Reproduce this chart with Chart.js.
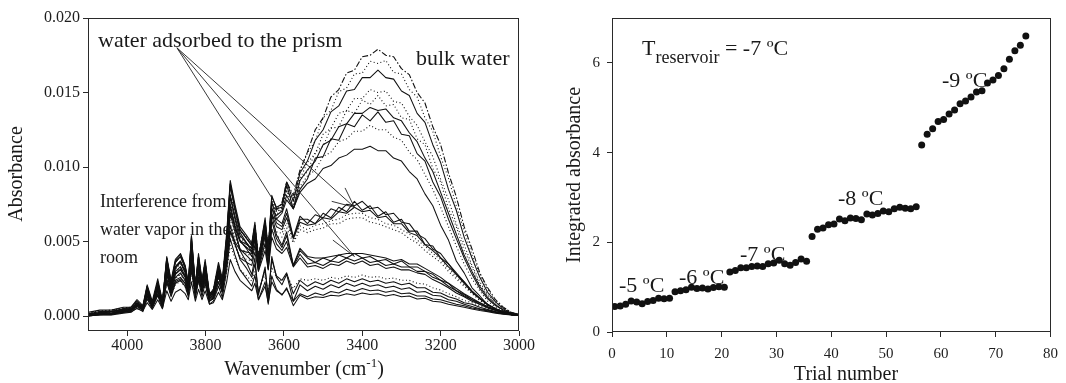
<!DOCTYPE html>
<html><head><meta charset="utf-8">
<script src="https://cdn.jsdelivr.net/npm/chart.js@4.4.1/dist/chart.umd.min.js"></script>
<style>
html,body{margin:0;padding:0;background:#fff;}
#wrap{position:relative;width:1066px;height:383px;overflow:hidden;}
#c1{position:absolute;left:0;top:0;}
#c2{position:absolute;left:540px;top:0;}
</style></head><body>
<div id="wrap"><canvas id="c1" width="540" height="383"></canvas><canvas id="c2" width="526" height="383"></canvas></div>
<script>
// ---------- Left panel: spectra (absorbance in units of 0.001) ----------
const WN = [4100,4070,4040,4010, 3990,3975,3960,3949,3936,3922,3910,3899,3888,3877,
 3864,3852,3844,3836,3826,3818,3809,3801,3790,3780, 3767,3757,3746,3737,3725,3712,3695,3682,3674,3665,
 3648,3640,3631,3619,3605,3593,3576,3559, 3540,3520,3500,3480,3460,3440,3420,3400,3380,3360,
 3340,3320,3300,3280,3260,3240,3220,3200,3180,3160, 3140,3120,3100,3080,3060,3040,3020,3000];

const bulk1 = [0.1,0.2,0.3,0.4, 0.5,0.8,0.6,1.6,0.8,1.9,0.8,3.1,1.9,2.9, 3.3,2.7,1.8,4.1,1.7,3.3,2.0,3.0,1.3,1.6, 2.9,2.1,4.5,7.2,6.0,5.0,4.6,4.3,5.5,3.8, 6.0,4.5,7.5,7.1,7.6,9.0,8.1,9.8, 11.0,12.5,13.3,14.7,15.2,16.3,16.5,17.4,17.5,17.9, 17.5,17.4,16.6,16.2,15.0,14.3,12.7,11.5,9.6,8.0, 6.0,4.5,2.9,1.9,1.1,0.6,0.25,0.1];
const bulk7 = [0.12,0.25,0.3,0.45, 0.55,0.9,0.6,1.8,0.85,2.1,0.85,3.45,2.05,3.25, 3.65,2.95,1.95,4.6,1.85,3.6,2.15,3.3,1.35,1.65, 3.15,2.25,4.9,7.95,6.6,5.4,4.9,4.55,5.8,3.8, 6.2,4.45,7.75,7.2,7.55,9.0,7.9,9.7, 10.95,11.75,13.3,13.8,15.05,15.3,16.25,16.3,17.1,16.95, 17.15,16.35,16.25,15.2,14.7,13.3,12.4,10.7,9.25,7.4, 5.75,4.1,2.8,1.8,1.0,0.55,0.24,0.1];
const bulk2 = [0.15,0.3,0.3,0.5, 0.6,1.0,0.6,2.0,0.9,2.3,0.9,3.8,2.2,3.6, 4.0,3.2,2.1,5.1,2.0,3.9,2.3,3.6,1.4,1.7, 3.4,2.4,5.3,8.7,7.2,5.8,5.2,4.8,6.1,3.8, 6.4,4.4,8.0,7.3,7.5,9.0,7.7,9.6, 10.4,11.8,12.5,13.7,14.1,15.1,15.2,16.0,16.0,16.5, 16.0,15.9,15.1,14.8,13.6,13.0,11.5,10.3,8.5,7.1, 5.3,3.9,2.6,1.6,0.95,0.5,0.2,0.1];
const bulk3 = [0.2,0.3,0.4,0.5, 0.6,0.8,0.7,1.5,0.8,1.7,0.9,2.7,1.7,2.5, 2.8,2.4,1.7,3.5,1.6,2.9,1.8,2.7,1.3,1.6, 2.7,2.0,4.0,6.1,5.3,4.5,4.3,4.1,5.1,3.8, 5.7,4.6,7.0,6.8,7.2,8.4,7.8,9.2, 10.3,10.9,12.2,12.6,13.6,13.8,14.6,14.6,15.2,15.0, 15.1,14.4,14.3,13.4,12.8,11.7,10.7,9.2,7.8,6.2, 4.8,3.4,2.3,1.45,0.85,0.5,0.2,0.1];
const bulk9 = [0.22,0.35,0.4,0.55, 0.6,0.95,0.7,1.8,0.9,2.1,0.95,3.35,2.05,3.15, 3.5,2.9,2.0,4.45,1.85,3.55,2.1,3.25,1.4,1.7, 3.15,2.25,4.8,7.6,6.4,5.25,4.85,4.5,5.7,3.85, 6.15,4.55,7.55,7.0,7.25,8.6,7.5,9.15, 9.7,11.0,11.4,12.6,12.7,13.8,13.6,14.5,14.2,14.8, 14.1,14.2,13.3,13.2,11.9,11.5,9.9,9.0,7.2,6.0, 4.4,3.3,2.1,1.4,0.8,0.45,0.19,0.1];
const bulk4 = [0.25,0.4,0.4,0.6, 0.6,1.1,0.7,2.1,1.0,2.5,1.0,4.0,2.4,3.8, 4.2,3.4,2.3,5.4,2.1,4.2,2.4,3.8,1.5,1.8, 3.6,2.5,5.6,9.1,7.5,6.0,5.4,4.9,6.3,3.9, 6.6,4.5,8.1,7.2,7.3,8.8,7.2,9.1, 9.8,10.4,11.5,11.8,12.7,12.9,13.6,13.6,14.0,13.8, 13.9,13.3,13.1,12.3,11.7,10.6,9.7,8.3,6.9,5.5, 4.1,3.0,2.0,1.25,0.75,0.4,0.2,0.1];
const bulk8 = [0.1,0.2,0.3,0.48, 0.5,0.82,0.6,1.55,0.82,1.8,0.85,2.95,1.8,2.8, 3.1,2.65,1.85,3.95,1.8,3.15,2.0,2.95,1.45,1.7, 3.0,2.25,4.5,6.95,6.0,5.05,4.8,4.55,5.6,4.05, 5.95,4.6,7.2,6.75,7.05,8.1,7.2,8.5, 9.2,10.6,10.7,11.9,11.8,12.9,12.7,13.5,13.1,13.7, 13.0,13.1,12.2,12.1,10.9,10.4,9.0,8.0,6.5,5.2, 3.9,2.8,1.85,1.15,0.7,0.4,0.18,0.1];
const bulk5 = [0.1,0.2,0.3,0.5, 0.5,0.9,0.6,1.8,0.9,2.1,0.9,3.5,2.1,3.3, 3.7,3.1,2.1,4.7,2.0,3.7,2.2,3.4,1.5,1.8, 3.4,2.4,5.2,8.2,7.0,5.7,5.3,4.9,6.1,4.1, 6.3,4.5,7.7,7.0,7.2,8.4,7.2,8.7, 9.4,9.8,10.7,11.0,11.7,11.9,12.4,12.4,12.8,12.5, 12.5,12.0,11.8,11.0,10.5,9.5,8.5,7.3,6.0,4.7, 3.5,2.5,1.7,1.0,0.6,0.35,0.17,0.1];
const bulk6 = [0.1,0.2,0.3,0.45, 0.5,0.75,0.6,1.3,0.75,1.5,0.8,2.4,1.5,2.3, 2.5,2.2,1.6,3.2,1.6,2.6,1.8,2.5,1.4,1.6, 2.6,2.1,3.8,5.7,5.0,4.4,4.3,4.2,5.1,4.0, 5.6,4.7,6.7,6.5,6.9,7.8,7.2,8.3, 8.9,9.2,9.9,10.1,10.6,10.8,11.2,11.2,11.4,11.1, 11.1,10.6,10.4,9.7,9.2,8.2,7.4,6.1,5.1,3.7, 2.9,1.9,1.35,0.75,0.5,0.3,0.15,0.1];
const mid1 = [0.1,0.2,0.2,0.4, 0.5,0.9,0.6,2.0,0.8,2.3,0.9,3.9,2.2,3.6, 4.0,3.3,2.1,5.2,2.0,4.0,2.2,3.6,1.4,1.6, 3.3,2.2,5.3,8.9,7.3,5.8,5.2,4.7,6.1,3.6, 6.3,4.1,7.7,6.5,6.2,7.2,5.3,6.7, 6.2,6.8,6.6,7.2,7.0,7.5,7.4,7.7,7.2,7.3, 6.8,6.9,6.3,6.2,5.5,5.2,4.5,4.2,3.5,2.9, 2.3,1.7,1.2,0.8,0.5,0.3,0.15,0.05];
const mid4 = [0.08,0.18,0.18,0.35, 0.45,0.82,0.55,1.8,0.75,2.1,0.8,3.5,2.0,3.3, 3.65,3.0,1.95,4.75,1.85,3.65,2.05,3.3,1.3,1.5, 3.05,2.1,4.9,8.15,6.7,5.4,4.9,4.5,5.75,3.55, 6.0,4.05,7.3,6.25,6.0,6.9,5.25,6.5, 6.5,6.2,6.9,6.6,7.3,7.0,7.7,7.1,7.4,6.7, 7.0,6.3,6.5,5.7,5.7,4.8,4.7,3.9,3.5,2.8, 2.3,1.65,1.2,0.78,0.5,0.3,0.15,0.05];
const mid2 = [0.05,0.15,0.15,0.3, 0.4,0.75,0.5,1.6,0.7,1.9,0.7,3.1,1.8,3.0, 3.3,2.7,1.8,4.3,1.7,3.3,1.9,3.0,1.2,1.4, 2.8,2.0,4.5,7.4,6.1,5.0,4.6,4.3,5.4,3.5, 5.7,4.0,6.9,6.0,5.8,6.6,5.2,6.3, 6.1,6.2,6.6,6.5,7.0,6.9,7.3,7.0,7.1,6.6, 6.7,6.2,6.2,5.6,5.4,4.8,4.4,3.9,3.3,2.8, 2.2,1.6,1.15,0.75,0.48,0.28,0.14,0.05];
const mid5 = [0.05,0.12,0.18,0.3, 0.38,0.68,0.48,1.4,0.65,1.65,0.65,2.7,1.6,2.6, 2.85,2.35,1.6,3.7,1.55,2.9,1.7,2.65,1.15,1.3, 2.5,1.8,3.95,6.45,5.4,4.5,4.2,4.0,5.0,3.45, 5.25,3.85,6.35,5.65,5.55,6.25,5.05,6.05, 5.8,6.1,6.2,6.4,6.5,6.8,6.9,6.9,6.6,6.5, 6.2,6.1,5.8,5.5,5.1,4.7,4.2,3.8,3.2,2.65, 2.1,1.55,1.1,0.73,0.46,0.27,0.14,0.05];
const mid3 = [0.05,0.1,0.2,0.3, 0.35,0.6,0.45,1.2,0.6,1.4,0.6,2.3,1.4,2.2, 2.4,2.0,1.4,3.1,1.4,2.5,1.5,2.3,1.1,1.2, 2.2,1.6,3.4,5.5,4.7,4.0,3.8,3.7,4.6,3.4, 4.8,3.7,5.8,5.3,5.3,5.9,4.9,5.8, 5.6,5.8,5.9,6.2,6.2,6.5,6.6,6.6,6.3,6.2, 6.0,5.8,5.6,5.2,4.9,4.4,4.0,3.6,3.0,2.5, 2.0,1.5,1.05,0.7,0.45,0.26,0.13,0.05];
const low4 = [0.05,0.2,0.15,0.4, 0.45,0.9,0.5,1.95,0.75,2.3,0.9,3.9,2.25,3.7, 4.15,3.35,2.15,5.35,2.0,4.0,2.35,3.55,1.35,1.55, 3.3,2.2,5.3,8.85,7.15,5.6,4.9,4.3,5.7,3.2, 5.7,3.25,6.8,5.45,4.75,5.65,3.4,4.55, 4.0,3.9,3.9,4.0,4.1,4.2,4.2,4.2,4.1,4.0, 3.9,3.7,3.8,3.5,3.5,3.2,2.9,2.6,2.2,1.85, 1.5,1.2,0.9,0.65,0.42,0.26,0.11,0.05];
const low1 = [0.05,0.2,0.15,0.4, 0.45,0.85,0.5,1.8,0.7,2.1,0.8,3.5,2.0,3.3, 3.7,3.0,1.9,4.8,1.8,3.6,2.1,3.2,1.2,1.4, 3.0,2.0,4.8,8.0,6.5,5.1,4.5,4.0,5.3,3.1, 5.4,3.2,6.4,5.2,4.6,5.4,3.4,4.4, 3.9,3.6,3.9,3.7,4.1,3.9,4.2,3.9,4.0,3.7, 3.8,3.5,3.7,3.3,3.3,3.0,2.8,2.4,2.2,1.7, 1.45,1.1,0.9,0.6,0.4,0.25,0.1,0.05];
const low3 = [0.03,0.15,0.12,0.35, 0.4,0.75,0.45,1.55,0.65,1.8,0.7,3.0,1.75,2.85, 3.15,2.6,1.65,4.1,1.6,3.1,1.85,2.8,1.1,1.3, 2.65,1.8,4.15,6.85,5.65,4.5,4.05,3.7,4.8,3.05, 4.9,3.15,5.85,4.85,4.4,5.0,3.35,4.15, 3.5,3.6,3.4,3.7,3.6,3.9,3.7,3.9,3.6,3.7, 3.4,3.5,3.3,3.3,3.0,3.0,2.6,2.4,2.0,1.7, 1.35,1.1,0.8,0.6,0.4,0.24,0.1,0.05];
const low2 = [0,0.1,0.1,0.3, 0.35,0.65,0.4,1.3,0.6,1.5,0.6,2.5,1.5,2.4, 2.6,2.2,1.4,3.4,1.4,2.6,1.6,2.4,1.0,1.2, 2.3,1.6,3.5,5.7,4.8,3.9,3.6,3.4,4.3,3.0, 4.4,3.1,5.3,4.5,4.2,4.6,3.3,3.9, 3.3,3.4,3.2,3.5,3.4,3.7,3.5,3.7,3.4,3.5, 3.2,3.3,3.1,3.1,2.9,2.8,2.45,2.2,1.9,1.55, 1.3,1.0,0.8,0.55,0.37,0.23,0.1,0.05];
const base5 = [0.15,0.23,0.27,0.4, 0.45,0.65,0.5,1.2,0.65,1.4,0.7,2.2,1.4,2.1, 2.35,1.95,1.4,2.95,1.3,2.35,1.45,2.15,1.0,1.15, 2.0,1.45,3.0,4.75,3.9,3.1,2.7,2.35,3.0,1.7, 2.8,1.6,3.3,2.6,2.35,2.8,1.85,2.5, 2.4,2.5,2.4,2.6,2.5,2.7,2.6,2.75,2.6,2.65, 2.5,2.55,2.4,2.4,2.2,2.15,1.9,1.75,1.5,1.3, 1.05,0.9,0.7,0.5,0.33,0.22,0.1,0.05];
const base2 = [0.05,0.15,0.15,0.3, 0.35,0.65,0.4,1.4,0.6,1.7,0.7,2.8,1.6,2.6, 2.9,2.4,1.6,3.8,1.4,2.9,1.6,2.6,1.0,1.2, 2.3,1.6,3.7,6.1,4.9,3.8,3.2,2.6,3.5,1.6, 3.1,1.4,3.8,2.7,2.4,2.9,1.5,2.4, 2.0,2.3,2.1,2.4,2.2,2.5,2.3,2.5,2.3,2.4, 2.2,2.3,2.1,2.2,1.9,1.9,1.6,1.55,1.3,1.15, 0.9,0.8,0.6,0.45,0.3,0.2,0.1,0.05];
const base3 = [0.03,0.15,0.13,0.3, 0.37,0.75,0.42,1.7,0.65,2.0,0.7,3.4,1.9,3.2, 3.6,2.9,1.8,4.6,1.7,3.5,1.9,3.1,1.0,1.2, 2.7,1.7,4.4,7.5,5.9,4.4,3.6,2.8,3.9,1.4, 3.3,1.0,4.0,2.6,2.1,2.8,1.0,2.1, 1.7,2.0,1.8,2.1,1.9,2.2,2.0,2.2,2.0,2.1, 1.9,2.0,1.8,1.9,1.6,1.65,1.4,1.35,1.1,1.0, 0.8,0.65,0.5,0.4,0.27,0.17,0.1,0.05];
const base1 = [0,0.1,0.15,0.25, 0.3,0.5,0.35,0.9,0.45,1.1,0.5,1.7,1.0,1.6, 1.8,1.5,1.1,2.3,1.0,1.8,1.1,1.7,0.8,0.9, 1.6,1.1,2.3,3.8,3.0,2.4,2.0,1.7,2.2,1.1, 2.0,0.9,2.3,1.7,1.45,1.8,1.0,1.5, 1.3,1.55,1.4,1.65,1.55,1.8,1.65,1.85,1.7,1.75, 1.6,1.7,1.5,1.55,1.35,1.35,1.15,1.1,0.95,0.8, 0.7,0.55,0.45,0.35,0.25,0.15,0.1,0.05];
const base4 = [0,0.08,0.07,0.2, 0.26,0.55,0.3,1.15,0.5,1.4,0.5,2.3,1.3,2.2, 2.4,2.0,1.3,3.15,1.2,2.4,1.3,2.2,0.8,1.0, 2.0,1.25,3.1,5.2,4.1,3.1,2.5,2.0,2.75,1.1, 2.3,0.8,2.7,1.8,1.4,1.9,0.7,1.4, 1.15,1.3,1.25,1.4,1.35,1.5,1.4,1.55,1.45,1.5, 1.35,1.45,1.3,1.35,1.15,1.2,1.0,0.95,0.8,0.7, 0.6,0.48,0.38,0.3,0.2,0.12,0.08,0.04];

const specTicksX = [4000,3800,3600,3400,3200,3000];
// pointer lines of "water adsorbed to the prism": [wn1, abs1, wn2, abs2]
const pointerLines = [[3873,18.0,3630,7.9],[3873,18.0,3420,7.3],[3873,18.0,3420,4.0],
  [3478,7.7,3420,7.3],[3444,8.6,3420,7.3],[3475,5.1,3420,4.0]];

// ---------- Right panel: integrated absorbance vs trial ----------
const trial = [0.5,1.5,2.5,3.5,4.5,5.5,6.5,7.5,8.5,9.5,10.5,
 11.5,12.5,13.5,14.5,15.5,16.5,17.5,18.5,19.5,20.5,
 21.5,22.5,23.5,24.5,25.5,26.5,27.5,28.5,29.5,30.5,31.5,32.5,33.5,34.5,35.5,
 36.5,37.5,38.5,39.5,40.5,41.5,42.5,43.5,44.5,45.5,46.5,47.5,48.5,49.5,50.5,51.5,52.5,53.5,54.5,55.5,
 56.5,57.5,58.5,59.5,60.5,61.5,62.5,63.5,64.5,65.5,66.5,67.5,68.5,69.5,70.5,71.5,72.5,73.5,74.5,75.5];
const intAbs = [0.57,0.58,0.62,0.69,0.67,0.63,0.68,0.70,0.75,0.74,0.75,
 0.90,0.92,0.94,1.00,0.97,0.98,0.96,0.99,1.01,1.00,
 1.34,1.37,1.43,1.43,1.46,1.47,1.46,1.52,1.54,1.60,1.52,1.49,1.55,1.63,1.58,
 2.13,2.29,2.32,2.39,2.41,2.52,2.48,2.54,2.53,2.50,2.63,2.61,2.64,2.70,2.68,2.75,2.78,2.76,2.75,2.79,
 4.17,4.41,4.53,4.69,4.74,4.86,4.95,5.09,5.15,5.24,5.35,5.38,5.55,5.62,5.72,5.87,6.08,6.27,6.39,6.60];
const tempLabels = ['-5 ºC','-6 ºC','-7 ºC','-8 ºC','-9 ºC'];

// ---------- drawing ----------
const SERIF = '"Liberation Serif", "Times New Roman", serif';
Chart.defaults.font.family = SERIF;
Chart.defaults.color = '#1e1e1e';
const INK = '#111111';
const DOT = [1,2.5];

const frame = {id:'frame', afterDraw(chart){
  const a = chart.chartArea, c = chart.ctx;
  c.save(); c.strokeStyle = '#2a2a2a'; c.lineWidth = 1;
  const l = Math.round(a.left)+0.5, r = Math.round(a.right)-0.5, t = Math.round(a.top)+0.5, b = Math.round(a.bottom)-0.5;
  c.strokeRect(l, t, r-l, b-t); c.restore();
}};

const specStyles = [
  [bulk1,[6,2,1.5,2]],[bulk7,DOT],[bulk2,[]],[bulk3,DOT],[bulk9,DOT],[bulk4,[]],[bulk8,[]],[bulk5,DOT],[bulk6,[]],
  [mid1,[]],[mid4,[]],[mid2,[]],[mid5,DOT],[mid3,DOT],
  [low4,[]],[low1,[]],[low3,[]],[low2,[]],
  [base5,DOT],[base2,[]],[base3,[]],[base1,[]],[base4,[]]
];

const leftText = {id:'leftText', afterDraw(chart){
  const c = chart.ctx, xs = chart.scales.x, ys = chart.scales.y;
  c.save();
  c.strokeStyle = '#222'; c.lineWidth = 0.9;
  pointerLines.forEach(([w1,a1,w2,a2])=>{
    c.beginPath(); c.moveTo(xs.getPixelForValue(w1), ys.getPixelForValue(a1));
    c.lineTo(xs.getPixelForValue(w2), ys.getPixelForValue(a2)); c.stroke();
  });
  c.fillStyle = '#1a1a1a'; c.textAlign = 'left'; c.textBaseline = 'alphabetic';
  c.font = '22px ' + SERIF;
  c.fillText('water adsorbed to the prism', 98, 47);
  c.fillText('bulk water', 416, 65);
  c.font = '18px ' + SERIF;
  c.fillText('Interference from', 100, 207);
  c.fillText('water vapor in the', 100, 235);
  c.fillText('room', 100, 263);
  c.font = '20px ' + SERIF;
  c.save(); c.translate(17, 174); c.rotate(-Math.PI/2); c.textAlign = 'center'; c.textBaseline = 'middle';
  c.fillText('Absorbance', 0, 0); c.restore();
  const t1 = 'Wavenumber (cm', t2 = '-1', t3 = ')';
  c.font = '20px ' + SERIF; const w1 = c.measureText(t1).width, w3 = c.measureText(t3).width;
  c.font = '13px ' + SERIF; const w2 = c.measureText(t2).width;
  let sx = 304 - (w1+w2+w3)/2; const by = 375;
  c.font = '20px ' + SERIF; c.fillText(t1, sx, by);
  c.font = '13px ' + SERIF; c.fillText(t2, sx+w1, by-8);
  c.font = '20px ' + SERIF; c.fillText(t3, sx+w1+w2, by);
  c.restore();
}};

new Chart(document.getElementById('c1'), {
  type: 'line',
  data: { datasets: specStyles.map(([arr,dash]) => ({
    data: WN.map((w,i)=>({x:w, y:arr[i]})),
    borderColor: INK, borderWidth: dash.length ? 1.1 : 1.05, borderDash: dash, pointRadius: 0,
    fill: false, tension: 0, borderJoinStyle: 'round'
  }))},
  options: {
    responsive: false, animation: false, events: [],
    layout: {padding: {left: 0, top: 18, right: 21, bottom: 0}},
    plugins: {legend: {display: false}, tooltip: {enabled: false}},
    scales: {
      x: {type: 'linear', reverse: true, min: 3000, max: 4100,
          afterFit(s){ s.height = 52; },
          afterBuildTicks(s){ s.ticks = specTicksX.map(v=>({value:v})); },
          ticks: {font: {size: 16}, padding: 0, maxRotation: 0, autoSkip: false, callback: v => String(v)},
          grid: {drawOnChartArea: false, tickLength: 5, color: '#2a2a2a'}, border: {display: false}},
      y: {min: -1, max: 20, afterFit(s){ s.width = 88; },
          ticks: {stepSize: 5, includeBounds: false, font: {size: 16}, padding: 3, callback: v => (v/1000).toFixed(3)},
          grid: {drawOnChartArea: false, tickLength: 5, color: '#2a2a2a'}, border: {display: false}}
    }
  },
  plugins: [frame, leftText]
});

const rightText = {id:'rightText', afterDraw(chart){
  const c = chart.ctx;
  c.save(); c.fillStyle = '#1a1a1a'; c.textAlign = 'left'; c.textBaseline = 'alphabetic';
  c.font = '22px ' + SERIF; c.fillText('T', 102, 55); const wT = c.measureText('T').width;
  c.font = '18px ' + SERIF; c.fillText('reservoir', 102+wT, 63); const wr = c.measureText('reservoir').width;
  c.font = '22px ' + SERIF; c.fillText(' = -7 ºC', 102+wT+wr, 55);
  const pos = [[79,292],[139,284],[200,261],[298,205],[402,87]];
  tempLabels.forEach((t,i)=> c.fillText(t, pos[i][0], pos[i][1]));
  c.font = '20px ' + SERIF;
  c.save(); c.translate(35, 175); c.rotate(-Math.PI/2); c.textAlign = 'center'; c.textBaseline = 'middle';
  c.fillText('Integrated absorbance', 0, 0); c.restore();
  c.textAlign = 'center'; c.fillText('Trial number', 306, 380);
  c.restore();
}};

new Chart(document.getElementById('c2'), {
  type: 'scatter',
  data: { datasets: [{ data: trial.map((t,i)=>({x:t, y:intAbs[i]})),
    pointRadius: 3.5, pointBackgroundColor: INK, pointBorderWidth: 0, showLine: false }]},
  options: {
    responsive: false, animation: false, events: [],
    layout: {padding: {left: 0, top: 18, right: 7, bottom: 0}},
    plugins: {legend: {display: false}, tooltip: {enabled: false}},
    scales: {
      x: {type: 'linear', min: 0, max: 80, afterFit(s){ s.height = 51; },
          ticks: {stepSize: 10, font: {size: 15}, padding: 8, maxRotation: 0},
          grid: {drawOnChartArea: false, tickLength: 5, color: '#2a2a2a'}, border: {display: false}},
      y: {min: 0, max: 7, afterFit(s){ s.width = 72; },
          ticks: {stepSize: 2, includeBounds: false, font: {size: 15}, padding: 7},
          grid: {drawOnChartArea: false, tickLength: 5, color: '#2a2a2a'}, border: {display: false}}
    }
  },
  plugins: [frame, rightText]
});
</script>
</body></html>
